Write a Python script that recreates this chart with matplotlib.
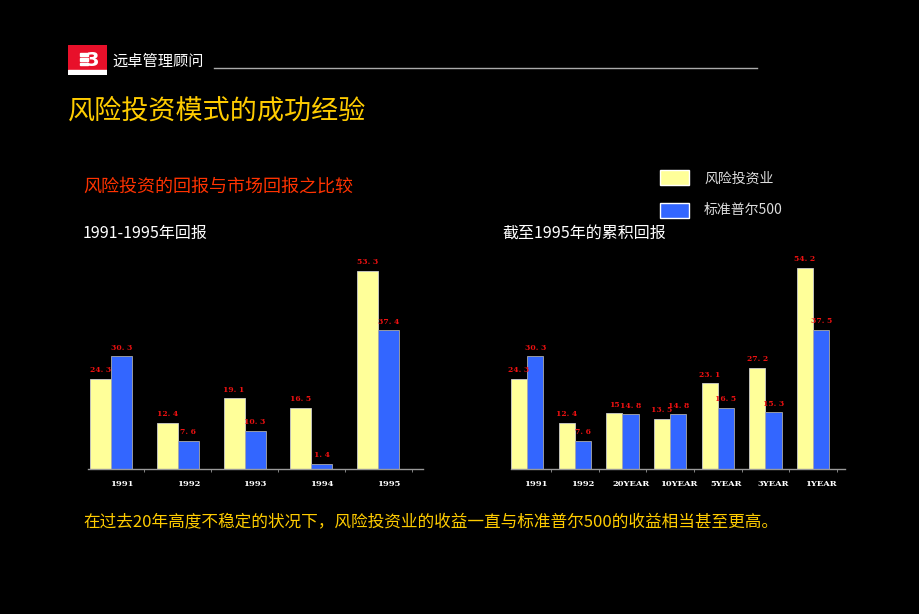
import matplotlib
matplotlib.use("Agg")
import matplotlib.pyplot as plt
from matplotlib.patches import Rectangle
import numpy as np

plt.rcParams['font.family'] = ['Noto Sans CJK SC', 'DejaVu Sans']

# ---- data ----
years = ["1991", "1992", "1993", "1994", "1995"]
vc_annual = [24.3, 12.4, 19.1, 16.5, 53.3]
sp_annual = [30.3, 7.6, 10.3, 1.4, 37.4]

periods = ["1991", "1992", "20YEAR", "10YEAR", "5YEAR", "3YEAR", "1YEAR"]
vc_cum = [24.3, 12.4, 15, 13.5, 23.1, 27.2, 54.2]
sp_cum = [30.3, 7.6, 14.8, 14.8, 16.5, 15.3, 37.5]

YELLOW = "#FFFF99"
BLUE = "#3366FF"
W, H = 920, 614

fig = plt.figure(figsize=(9.2, 6.14), dpi=100, facecolor="black")


def px_axes(x0, y0, x1, y1):
    # pixel box (top-left origin) -> figure axes
    return fig.add_axes([x0 / W, 1 - y1 / H, (x1 - x0) / W, (y1 - y0) / H])


def fmt(v):
    if float(v).is_integer():
        return str(int(v))
    return f"{v:.1f}".replace(".", ". ")


def bar_chart(ax, cats, a, b, width, xlim):
    x = np.arange(len(cats))
    ax.set_facecolor("black")
    ax.bar(x - width / 2, a, width, color=YELLOW, edgecolor="#cccccc", linewidth=0.6)
    ax.bar(x + width / 2, b, width, color=BLUE, edgecolor="#aaaaaa", linewidth=0.6)
    for xi, v in zip(x - width / 2, a):
        ax.text(xi, v + 1.2, fmt(v), ha="center", va="bottom", color="#ee1111",
                fontsize=5.5, family="DejaVu Serif", fontweight="bold")
    for xi, v in zip(x + width / 2, b):
        ax.text(xi, v + 1.2, fmt(v), ha="center", va="bottom", color="#ee1111",
                fontsize=5.5, family="DejaVu Serif", fontweight="bold")
    for s in ["top", "right", "left"]:
        ax.spines[s].set_visible(False)
    ax.spines["bottom"].set_color("#999999")
    ax.spines["bottom"].set_linewidth(1.0)
    ax.set_yticks([])
    # labels sit under the blue bars, as in the original slide
    ax.set_xticks(x + width / 2)
    ax.set_xticklabels(cats, family="DejaVu Serif", fontsize=6, color="white",
                       fontweight="bold")
    ax.tick_params(axis="x", length=0, pad=8)
    ax.set_xticks(np.arange(len(cats) + 1) - 0.5, minor=True)
    ax.tick_params(axis="x", which="minor", length=2, color="#999999")
    ax.set_xlim(*xlim)
    ax.set_ylim(0, 60)


ax1 = px_axes(88, 246, 423, 469)
bar_chart(ax1, years, vc_annual, sp_annual, 0.315, (-0.345, 4.67))

ax2 = px_axes(511, 246, 845, 469)
bar_chart(ax2, periods, vc_cum, sp_cum, 0.34, (-0.34, 6.67))

# ---- header ----
logo = px_axes(68, 45, 107, 75)
logo.set_xlim(0, 1)
logo.set_ylim(0, 1)
logo.axis("off")
logo.add_patch(Rectangle((0, 0), 1, 1, color="#e8102a"))
logo.add_patch(Rectangle((0, 0), 1, 0.18, color="white"))
for yy in [0.32, 0.48, 0.64]:
    logo.add_patch(Rectangle((0.3, yy), 0.22, 0.08, color="white"))
logo.text(0.62, 0.5, "3", color="white", fontsize=14, fontweight="bold",
          ha="center", va="center", family="DejaVu Sans")

fig.text(112 / W, 1 - 61 / H, "远卓管理顾问", color="white", fontsize=11, va="center")
fig.add_artist(plt.Line2D([214 / W, 757 / W], [1 - 68 / H, 1 - 68 / H],
                          color="#aaaaaa", linewidth=1))

fig.text(68 / W, 1 - 111 / H, "风险投资模式的成功经验", color="#FFCC00",
         fontsize=19.5, va="center", fontweight="medium")
fig.text(83 / W, 1 - 187 / H, "风险投资的回报与市场回报之比较", color="#FF3300",
         fontsize=13, va="center", fontweight="medium")
fig.text(83 / W, 1 - 233 / H, "1991-1995年回报", color="white", fontsize=11.5, va="center")
fig.text(502 / W, 1 - 233 / H, "截至1995年的累积回报", color="white", fontsize=11.5,
         va="center")

# legend
fig.add_artist(Rectangle((660 / W, 1 - 185 / H), 29 / W, 15 / H, facecolor=YELLOW,
                         edgecolor="white", linewidth=1, transform=fig.transFigure))
fig.add_artist(Rectangle((660 / W, 1 - 218 / H), 29 / W, 15 / H, facecolor=BLUE,
                         edgecolor="white", linewidth=1, transform=fig.transFigure))
fig.text(704 / W, 1 - 179 / H, "风险投资业", color="#dddddd", fontsize=10, va="center")
fig.text(704 / W, 1 - 210 / H, "标准普尔500", color="#dddddd", fontsize=10, va="center")

fig.text(83 / W, 1 - 522 / H,
         "在过去20年高度不稳定的状况下，风险投资业的收益一直与标准普尔500的收益相当甚至更高。",
         color="#FFCC00", fontsize=12, va="center")

fig.savefig("out.png", dpi=100, facecolor="black")
